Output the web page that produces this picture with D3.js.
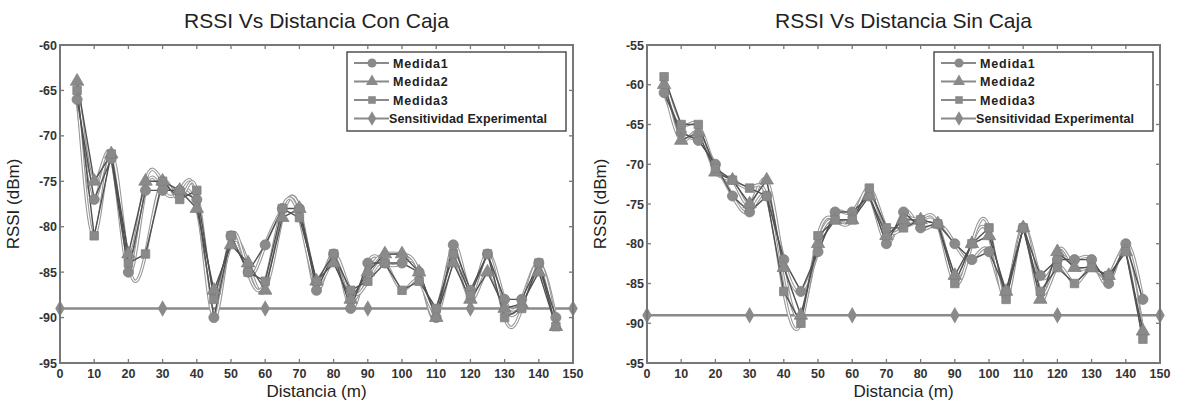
<!DOCTYPE html>
<html>
<head>
<meta charset="utf-8">
<script src="https://cdn.jsdelivr.net/npm/d3@7"></script>
<style>
  body { margin: 0; background: #fff; }
  svg { display: block; font-family: "Liberation Sans", Arial, sans-serif; }
</style>
</head>
<body>
<svg id="chart" width="1181" height="403"></svg>
<script>
const distances = [5, 10, 15, 20, 25, 30, 35, 40, 45, 50, 55, 60, 65, 70, 75, 80, 85, 90, 95, 100, 105, 110, 115, 120, 125, 130, 135, 140, 145];
const sensX = [0, 30, 60, 90, 120, 150];
const sensValue = -89;

// Con caja
const conM1 = [-66, -77, -72.5, -85, -76, -76, -76, -77, -90, -81, -85, -82, -78, -78, -87, -83, -89, -84, -84, -84, -85, -90, -82, -87, -83, -88, -88, -84, -90];
const conM2 = [-64, -75, -72, -83, -75, -75, -76, -78, -87, -82, -84, -87, -79, -78, -86, -84, -88, -85, -83, -83, -85, -90, -84, -88, -85, -89, -88.5, -85, -91];
const conM3 = [-65, -81, -72, -84, -83, -75, -77, -76, -88, -81, -85, -86, -78, -79, -86, -83, -87, -86, -84, -87, -86, -89, -83, -87.5, -83, -90, -89, -84, -91];

// Sin caja
const sinM1 = [-61, -66, -67, -70, -74, -76, -74, -82, -86, -81, -76, -76, -74, -80, -76, -78, -77.5, -80, -82, -81, -86, -78, -84, -82, -82, -82, -85, -80, -87];
const sinM2 = [-60, -67, -66, -71, -72, -75, -72, -83, -89, -80, -77, -77, -74, -79, -77, -77, -77.5, -84, -80, -79, -86, -78, -87, -81, -83, -83, -84, -81, -91];
const sinM3 = [-59, -65, -65, -70.5, -72, -73, -74, -86, -90, -79, -77, -77, -73, -78, -78, -77, -77.5, -85, -80, -78, -87, -78, -86, -83, -85, -83, -84, -81, -92];

const xTicks = [0, 10, 20, 30, 40, 50, 60, 70, 80, 90, 100, 110, 120, 130, 140, 150];
const legendLabels = ['Medida1', 'Medida2', 'Medida3', 'Sensitividad Experimental'];

const svg = d3.select('#chart');
const grey = '#8a8a8a';

const symbols = [d3.symbolCircle, d3.symbolTriangle, d3.symbolSquare, d3.symbolDiamond];
const symbolSizes = [80, 78, 72, 78];

function drawPanel(opts) {
  const { left, right, top, bottom, yMin, yMax, title, series } = opts;
  const g = svg.append('g');

  const x = d3.scaleLinear().domain([0, 150]).range([left, right]);
  const y = d3.scaleLinear().domain([yMin, yMax]).range([bottom, top]);
  const yTicks = d3.range(yMin, yMax + 1, 5);

  // tick marks (inside, all four sides)
  const tl = 4;
  xTicks.forEach((t) => {
    g.append('line').attr('x1', x(t)).attr('x2', x(t)).attr('y1', bottom).attr('y2', bottom - tl)
      .attr('stroke', '#777').attr('stroke-width', 1.3);
    g.append('line').attr('x1', x(t)).attr('x2', x(t)).attr('y1', top).attr('y2', top + tl)
      .attr('stroke', '#777').attr('stroke-width', 1.3);
  });
  yTicks.forEach((t) => {
    g.append('line').attr('x1', left).attr('x2', left + tl).attr('y1', y(t)).attr('y2', y(t))
      .attr('stroke', '#777').attr('stroke-width', 1.3);
    g.append('line').attr('x1', right).attr('x2', right - tl).attr('y1', y(t)).attr('y2', y(t))
      .attr('stroke', '#777').attr('stroke-width', 1.3);
  });

  // tick labels
  g.append('g').selectAll('text').data(xTicks).join('text')
    .attr('x', d => x(d)).attr('y', bottom + 15)
    .attr('text-anchor', 'middle')
    .attr('font-size', 12.5).attr('font-weight', 'bold').attr('fill', '#333')
    .text(d => d);
  g.append('g').selectAll('text').data(yTicks).join('text')
    .attr('x', left - 3).attr('y', d => y(d) + 4.5)
    .attr('text-anchor', 'end')
    .attr('font-size', 12.5).attr('font-weight', 'bold').attr('fill', '#333')
    .text(d => d);

  // sensitivity line
  const sensLine = d3.line().x(d => x(d)).y(() => y(sensValue));
  g.append('path').datum(sensX).attr('d', sensLine)
    .attr('fill', 'none').attr('stroke', grey).attr('stroke-width', 2.4);
  g.append('g').selectAll('path').data(sensX).join('path')
    .attr('transform', d => `translate(${x(d)},${y(sensValue)})`)
    .attr('d', d3.symbol(symbols[3], symbolSizes[3]))
    .attr('fill', grey);

  // measured series: smooth spline (outlined) plus straight segments and markers
  const smooth = d3.line().curve(d3.curveNatural).x((d, i) => x(distances[i])).y(d => y(d));
  const straight = d3.line().x((d, i) => x(distances[i])).y(d => y(d));

  series.forEach((vals) => {
    g.append('path').datum(vals).attr('d', smooth)
      .attr('fill', 'none').attr('stroke', '#999').attr('stroke-width', 3.4);
    g.append('path').datum(vals).attr('d', smooth)
      .attr('fill', 'none').attr('stroke', '#fff').attr('stroke-width', 1.2);
  });
  series.forEach((vals) => {
    g.append('path').datum(vals).attr('d', straight)
      .attr('fill', 'none').attr('stroke', '#505050').attr('stroke-width', 1.4);
  });
  series.forEach((vals, si) => {
    g.append('g').selectAll('path').data(vals).join('path')
      .attr('transform', (d, i) => `translate(${x(distances[i])},${y(d)})`)
      .attr('d', d3.symbol(symbols[si], symbolSizes[si]))
      .attr('fill', grey).attr('stroke', '#808080').attr('stroke-width', 0.8);
  });

  // axes box
  g.append('rect').attr('x', left).attr('y', top)
    .attr('width', right - left).attr('height', bottom - top)
    .attr('fill', 'none').attr('stroke', '#777').attr('stroke-width', 2);

  // legend
  const lx = right - 226, ly = top + 7, lw = 219, lh = 79;
  const lg = g.append('g');
  lg.append('rect').attr('x', lx).attr('y', ly).attr('width', lw).attr('height', lh)
    .attr('fill', '#fff').attr('stroke', '#444').attr('stroke-width', 1.4);
  legendLabels.forEach((lab, i) => {
    const yy = ly + 11 + i * 18.5;
    lg.append('line').attr('x1', lx + 7).attr('x2', lx + 42).attr('y1', yy).attr('y2', yy)
      .attr('stroke', grey).attr('stroke-width', 2);
    lg.append('path').attr('transform', `translate(${lx + 25},${yy})`)
      .attr('d', d3.symbol(symbols[i], symbolSizes[i] * 0.8))
      .attr('fill', grey);
    lg.append('text').attr('x', i === 3 ? lx + 42 : lx + 46).attr('y', yy + 4.5)
      .attr('font-size', 12.5).attr('font-weight', 'bold').attr('fill', '#222')
      .attr('letter-spacing', i === 3 ? 0.1 : 0.8)
      .text(lab);
  });

  // title and axis labels
  g.append('text').attr('x', (left + right) / 2).attr('y', 28)
    .attr('text-anchor', 'middle').attr('font-size', 21).attr('fill', '#222')
    .text(title);
  g.append('text').attr('x', (left + right) / 2).attr('y', 397)
    .attr('text-anchor', 'middle').attr('font-size', 17).attr('fill', '#222')
    .text('Distancia (m)');
  g.append('text')
    .attr('transform', `translate(${left - 41},${(top + bottom) / 2}) rotate(-90)`)
    .attr('text-anchor', 'middle').attr('font-size', 17).attr('fill', '#222')
    .text('RSSI (dBm)');
}

drawPanel({
  left: 60, right: 573, top: 45, bottom: 363, yMin: -95, yMax: -60,
  title: 'RSSI Vs Distancia Con Caja', series: [conM1, conM2, conM3],
});
drawPanel({
  left: 647, right: 1160, top: 45, bottom: 363, yMin: -95, yMax: -55,
  title: 'RSSI Vs Distancia Sin Caja', series: [sinM1, sinM2, sinM3],
});
</script>
</body>
</html>
